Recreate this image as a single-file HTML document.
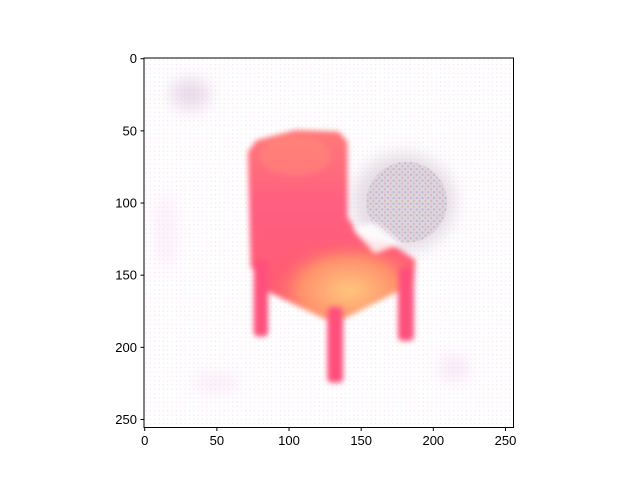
<!DOCTYPE html>
<html><head><meta charset="utf-8"><style>
html,body{margin:0;padding:0;background:#fff;width:640px;height:480px;overflow:hidden}
text{font-family:"Liberation Sans",sans-serif;font-size:13px;fill:#000}
</style></head><body>
<svg width="640" height="480" xmlns="http://www.w3.org/2000/svg">
<defs>
<filter id="b1" x="-20%" y="-20%" width="140%" height="140%"><feGaussianBlur stdDeviation="1.8"/></filter>
<filter id="b2" x="-30%" y="-30%" width="160%" height="160%"><feGaussianBlur stdDeviation="6"/></filter>
<radialGradient id="seatg" cx="0.6" cy="0.7" r="0.5">
<stop offset="0" stop-color="#ffd880"/><stop offset="0.6" stop-color="#ff9a6a"/><stop offset="1" stop-color="#ff5f6a" stop-opacity="0"/></radialGradient>
<linearGradient id="backg" x1="0" y1="0" x2="0" y2="1">
<stop offset="0" stop-color="#ff7878"/><stop offset="0.4" stop-color="#ff5e80"/><stop offset="1" stop-color="#ff5a6c"/></linearGradient>
<pattern id="dots" width="3" height="3" patternUnits="userSpaceOnUse"><rect width="3" height="3" fill="#fff"/><circle cx="1.5" cy="1.5" r="0.5" fill="#f8e4f6"/></pattern>
<pattern id="noise" width="4" height="4" patternUnits="userSpaceOnUse"><rect width="4" height="4" fill="#d8cfe0"/><circle cx="1" cy="1" r="0.8" fill="#8fa3b0"/><circle cx="3" cy="3" r="0.8" fill="#c8a080"/><circle cx="3" cy="1" r="0.6" fill="#f0a8d8"/></pattern>
<clipPath id="imgclip"><rect x="0" y="0" width="256" height="256"/></clipPath>
</defs>
<g transform="translate(144,58) scale(1.443,1.443)" clip-path="url(#imgclip)">
<rect x="0" y="0" width="256" height="256" fill="url(#dots)"/>
<g filter="url(#b2)" opacity="0.8">
<ellipse cx="32" cy="25" rx="14" ry="11" fill="#d8bcd8" opacity="0.7"/>
<ellipse cx="15" cy="120" rx="7" ry="28" fill="#f6dcf4" opacity="0.6"/>
<ellipse cx="215" cy="215" rx="11" ry="9" fill="#f2d4ee" opacity="0.7"/>
<ellipse cx="50" cy="225" rx="18" ry="7" fill="#f4daf0" opacity="0.6"/>
</g>
<g>
<ellipse cx="180" cy="100" rx="36" ry="34" fill="url(#noise)" opacity="0.55" filter="url(#b2)"/>
<ellipse cx="182" cy="100" rx="28" ry="28" fill="url(#noise)" opacity="0.55"/>
</g>
<g filter="url(#b1)">
<polygon fill="url(#backg)" points="72,65 78,57 105,50 135,51 141,58 141,110 150,124 170,128 188,140 187,156 140,180 130,183 86,162 80,150 74,145"/>
<polygon fill="url(#seatg)" opacity="0.85" points="74,110 141,110 150,124 170,128 188,140 187,156 140,180 130,183 86,162 80,150"/>
<ellipse cx="105" cy="68" rx="25" ry="14" fill="#ff9878" opacity="0.35"/>
<polygon fill="#fff" opacity="0.85" points="145,118 160,114 178,128 160,135"/>
<rect x="76" y="140" width="10" height="53" rx="3" fill="#ff4f7c"/>
<rect x="127" y="172" width="11" height="53" rx="3" fill="#ff4f7c"/>
<rect x="176" y="145" width="11" height="51" rx="3" fill="#ff4f7c"/>
</g>
</g>
<rect x="144" y="58" width="369.5" height="369.5" fill="none" stroke="#000" stroke-width="1"/>
<g id="xt"></g>
<g id="yt"></g>
<script>
const xTicks=[0,50,100,150,200,250];
const yTicks=[0,50,100,150,200,250];
const ox=144,oy=58,s=1.443;
const ns='http://www.w3.org/2000/svg';
const xt=document.getElementById('xt'),yt=document.getElementById('yt');
xTicks.forEach(v=>{const x=ox+(v+0.5)*s;
const l=document.createElementNS(ns,'line');l.setAttribute('x1',x);l.setAttribute('x2',x);l.setAttribute('y1',427.5);l.setAttribute('y2',431);l.setAttribute('stroke','#000');


xt.appendChild(l);
const t=document.createElementNS(ns,'text');t.setAttribute('x',x);t.setAttribute('y',445);t.setAttribute('text-anchor','middle');t.textContent=v;


xt.appendChild(t);});
yTicks.forEach(v=>{const y=oy+(v+0.5)*s;
const l=document.createElementNS(ns,'line');l.setAttribute('x1',140.5);l.setAttribute('x2',144);l.setAttribute('y1',y);l.setAttribute('y2',y);l.setAttribute('stroke','#000');


yt.appendChild(l);
const t=document.createElementNS(ns,'text');t.setAttribute('x',137);t.setAttribute('y',y+4.5);t.setAttribute('text-anchor','end');t.textContent=v;


yt.appendChild(t);});
</script>
</svg>
</body></html>
